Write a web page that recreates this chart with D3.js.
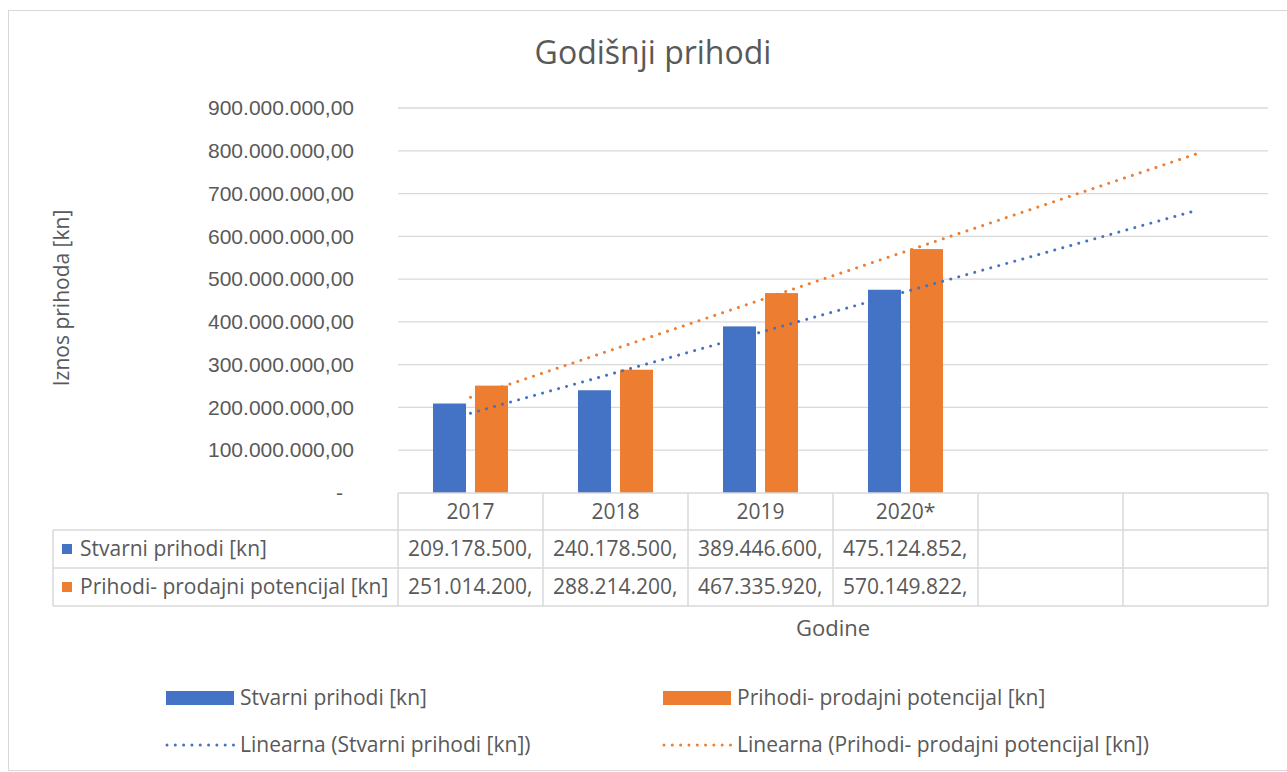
<!DOCTYPE html>
<html lang="hr">
<head>
  <meta charset="UTF-8">
  <title>Godišnji prihodi</title>
  <script src="https://d3js.org/d3.v7.min.js"></script>
  <style>
    body {
      margin: 0;
      background: #fff;
      font-family: "Open Sans", "Noto Sans", sans-serif;
    }
    text {
      fill: #595959;
    }
  </style>
</head>
<body>
  <div id="chart"></div>

  <script>
    // data
    const years = ["2017", "2018", "2019", "2020*", "", ""];
    const seriesNames = ["Stvarni prihodi [kn]", "Prihodi- prodajni potencijal [kn]"];
    const stvarni = [209178500, 240178500, 389446600, 475124852];
    const potencijal = [251014200, 288214200, 467335920, 570149822];
    const yTicks = [0, 100e6, 200e6, 300e6, 400e6, 500e6, 600e6, 700e6, 800e6, 900e6];
    const colors = ["#4472C4", "#ED7D31"];

    const values = [stvarni, potencijal];

    const w = 1287;
    const h = 772;
    const plot = { left: 398, right: 1268, top: 108, bottom: 493 };
    const tableLeft = 53;
    const rowLines = [493, 530, 568, 606];
    const fs = "21px";

    const hr = d3.formatLocale({ decimal: ",", thousands: ".", grouping: [3], currency: ["", ""] });
    const fmt = hr.format(",.2f");

    const svg = d3.select("#chart")
                  .append("svg")
                  .attr("width", w)
                  .attr("height", h);

    // outer chart border
    svg.append("rect")
       .attr("x", 8.5).attr("y", 10.5)
       .attr("width", 1300).attr("height", 760)
       .attr("fill", "#fff")
       .attr("stroke", "#d9d9d9");

    svg.append("text")
       .attr("x", 653).attr("y", 64)
       .attr("text-anchor", "middle")
       .style("font-size", "32px")
       .text("Godišnji prihodi");

    const x0 = d3.scaleBand()
                 .domain(d3.range(years.length))
                 .range([plot.left, plot.right]);

    const x1 = d3.scaleBand()
                 .domain([0, 1])
                 .range([35, 110])
                 .paddingInner(9 / 42);

    const y = d3.scaleLinear()
                .domain([0, 900e6])
                .range([plot.bottom, plot.top]);

    // gridlines
    svg.append("g")
       .selectAll("line")
       .data(yTicks.slice(1))
       .join("line")
       .attr("x1", plot.left).attr("x2", plot.right)
       .attr("y1", d => y(d)).attr("y2", d => y(d))
       .attr("stroke", "#d9d9d9")
       .attr("stroke-width", 1.3);

    // y axis (labels only)
    const yAxis = d3.axisLeft(y)
                    .tickValues(yTicks)
                    .tickSize(0)
                    .tickPadding(0)
                    .tickFormat(d => d === 0 ? "-" : fmt(d));

    const gy = svg.append("g")
                  .attr("transform", "translate(354,0)")
                  .call(yAxis);
    gy.select(".domain").remove();
    gy.selectAll("text")
      .style("font-size", fs)
      .style("font-family", "inherit")
      .attr("fill", "#595959");
    gy.selectAll(".tick")
      .filter(d => d === 0)
      .select("text")
      .attr("dx", -11);

    svg.append("text")
       .attr("transform", "translate(69,298) rotate(-90)")
       .attr("text-anchor", "middle")
       .style("font-size", "21px")
       .text("Iznos prihoda [kn]");

    // bars
    values.forEach((vals, s) => {
      svg.append("g")
         .selectAll("rect")
         .data(vals)
         .join("rect")
         .attr("x", (d, i) => x0(i) + x1(s))
         .attr("y", d => y(d))
         .attr("width", x1.bandwidth())
         .attr("height", d => y(0) - y(d))
         .attr("fill", colors[s]);
    });

    // linear trendlines, forecast forward to the last category
    const line = d3.line()
                   .x(d => x0(d[0]) + x0.bandwidth() / 2)
                   .y(d => y(d[1]));

    values.forEach((vals, s) => {
      const xs = vals.map((d, i) => i + 1);
      const mx = d3.mean(xs);
      const my = d3.mean(vals);
      const slope = d3.sum(xs, (xv, i) => (xv - mx) * (vals[i] - my)) / d3.sum(xs, xv => (xv - mx) ** 2);
      const b = my - slope * mx;
      const ends = [[0, b + slope * 1], [years.length - 1, b + slope * years.length]];
      svg.append("path")
         .attr("d", line(ends))
         .attr("fill", "none")
         .attr("stroke", colors[s])
         .attr("stroke-width", 3)
         .attr("stroke-linecap", "round")
         .attr("stroke-dasharray", "0.01 8.3");
    });

    // data table
    const grid = svg.append("g")
                    .attr("stroke", "#d9d9d9")
                    .attr("stroke-width", 1.5);

    grid.selectAll(".vl")
        .data(d3.range(years.length + 1))
        .join("line")
        .attr("x1", i => i < years.length ? x0(i) : plot.right)
        .attr("x2", i => i < years.length ? x0(i) : plot.right)
        .attr("y1", rowLines[0]).attr("y2", rowLines[3]);

    grid.append("line")
        .attr("x1", tableLeft).attr("x2", tableLeft)
        .attr("y1", rowLines[1]).attr("y2", rowLines[3]);

    grid.selectAll(".hl")
        .data(rowLines)
        .join("line")
        .attr("x1", (d, i) => i === 0 ? plot.left : tableLeft)
        .attr("x2", plot.right)
        .attr("y1", d => d).attr("y2", d => d);

    svg.append("g")
       .selectAll("text")
       .data(years)
       .join("text")
       .attr("x", (d, i) => x0(i) + x0.bandwidth() / 2)
       .attr("y", 519)
       .attr("text-anchor", "middle")
       .style("font-size", fs)
       .text(d => d);

    values.forEach((vals, s) => {
      const rowY = (rowLines[s + 1] + rowLines[s + 2]) / 2;

      svg.append("rect")
         .attr("x", 62).attr("y", rowY - 5)
         .attr("width", 10).attr("height", 10)
         .attr("fill", colors[s]);

      svg.append("text")
         .attr("x", 80).attr("y", rowY + 7)
         .style("font-size", fs)
         .text(seriesNames[s]);

      // cell text is cut where it no longer fits, like in the source
      svg.append("g")
         .selectAll("text")
         .data(vals)
         .join("text")
         .attr("x", (d, i) => x0(i) + 10)
         .attr("y", rowY + 7)
         .style("font-size", fs)
         .text(d => fmt(d))
         .each(function() {
           const t = d3.select(this);
           let str = t.text();
           while (this.getComputedTextLength() > x0.bandwidth() - 12 && str.length > 1) {
             str = str.slice(0, -1);
             t.text(str);
           }
         });
    });

    svg.append("text")
       .attr("x", 833).attr("y", 636)
       .attr("text-anchor", "middle")
       .style("font-size", "22px")
       .text("Godine");

    // legend
    const legendItems = [
      { label: seriesNames[0], color: colors[0], kind: "bar", x: 166, y: 698 },
      { label: seriesNames[1], color: colors[1], kind: "bar", x: 663, y: 698 },
      { label: "Linearna (" + seriesNames[0] + ")", color: colors[0], kind: "trend", x: 166, y: 745 },
      { label: "Linearna (" + seriesNames[1] + ")", color: colors[1], kind: "trend", x: 663, y: 745 }
    ];

    const lg = svg.append("g")
                  .selectAll("g")
                  .data(legendItems)
                  .join("g")
                  .attr("transform", d => `translate(${d.x},${d.y})`);

    lg.filter(d => d.kind === "bar")
      .append("rect")
      .attr("x", 0).attr("y", -7)
      .attr("width", 68).attr("height", 14)
      .attr("fill", d => d.color);

    lg.filter(d => d.kind === "trend")
      .append("line")
      .attr("x1", 1).attr("x2", 68)
      .attr("stroke", d => d.color)
      .attr("stroke-width", 3)
      .attr("stroke-linecap", "round")
      .attr("stroke-dasharray", "0.01 8.3");

    lg.append("text")
      .attr("x", 74).attr("y", 7)
      .style("font-size", fs)
      .text(d => d.label);
  </script>
</body>
</html>
